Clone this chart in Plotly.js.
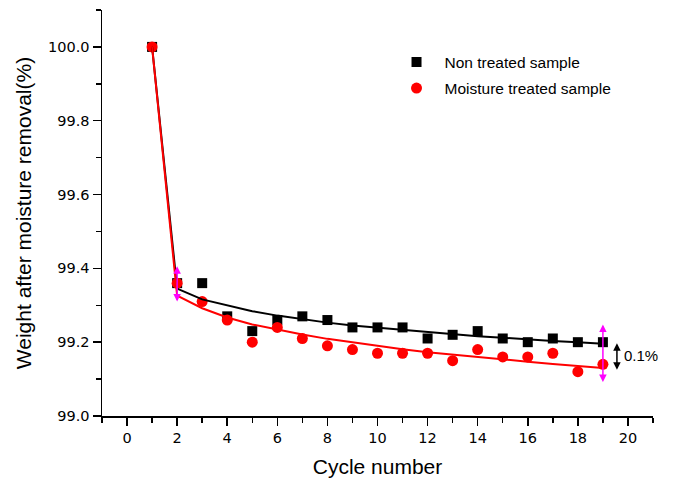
<!DOCTYPE html>
<html>
<head>
<meta charset="utf-8">
<script src="https://cdn.plot.ly/plotly-3.0.1.min.js"></script>
<style>
  html, body { margin: 0; padding: 0; background: #fff; }
  #chart { width: 674px; height: 483px; }
</style>
</head>
<body>
<div id="chart"></div>
<script>
// Cycle numbers
const cycles = [1, 2, 3, 4, 5, 6, 7, 8, 9, 10, 11, 12, 13, 14, 15, 16, 17, 18, 19];

// Measured weight after moisture removal (%)
const nonTreated = [100.00, 99.36, 99.36, 99.27, 99.23, 99.26, 99.27, 99.26, 99.24, 99.24,
                    99.24, 99.21, 99.22, 99.23, 99.21, 99.20, 99.21, 99.20, 99.20];
const moistureTreated = [100.00, 99.36, 99.31, 99.26, 99.20, 99.24, 99.21, 99.19, 99.18, 99.17,
                         99.17, 99.17, 99.15, 99.18, 99.16, 99.16, 99.17, 99.12, 99.14];

// Fitted decay curves for each sample
const nonTreatedFit = [100.000, 99.345, 99.316, 99.299, 99.284, 99.272, 99.262, 99.253, 99.245, 99.239,
                       99.232, 99.226, 99.221, 99.216, 99.212, 99.207, 99.203, 99.200, 99.196];
const moistureTreatedFit = [100.000, 99.326, 99.292, 99.267, 99.248, 99.234, 99.221, 99.209, 99.199, 99.190,
                            99.181, 99.173, 99.166, 99.159, 99.153, 99.147, 99.141, 99.135, 99.130];

// Tick positions and labels
const xTicks = [0, 2, 4, 6, 8, 10, 12, 14, 16, 18, 20];
const yTicks = [99.0, 99.2, 99.4, 99.6, 99.8, 100.0];
const yTickText = ['99.0', '99.2', '99.4', '99.6', '99.8', '100.0'];

// Spread markers: [x, yFrom, yTo]
const spreadStart = [2, 99.41, 99.31];
const spreadEnd = [19, 99.252, 99.092];
const gapArrow = [19.56, 99.201, 99.125];
const gapLabel = '0.1%';

const sans = 'Arial, "Liberation Sans", sans-serif';
const tickFont = { family: '"DejaVu Sans", sans-serif', size: 14.5, color: '#000' };

const traces = [
  {
    x: cycles, y: nonTreated, name: 'Non treated sample', legendgroup: 'a',
    type: 'scatter', mode: 'markers',
    marker: { symbol: 'square', size: 10, color: '#000' }
  },
  {
    x: cycles, y: moistureTreated, name: 'Moisture treated sample', legendgroup: 'b',
    type: 'scatter', mode: 'markers',
    marker: { symbol: 'circle', size: 11, color: '#ff0000' }
  },
  {
    x: cycles, y: nonTreatedFit, showlegend: false, hoverinfo: 'skip',
    type: 'scatter', mode: 'lines',
    line: { color: '#000', width: 2 }
  },
  {
    x: cycles, y: moistureTreatedFit, showlegend: false, hoverinfo: 'skip',
    type: 'scatter', mode: 'lines',
    line: { color: '#ff0000', width: 2 }
  }
];

function doubleArrow(spec, color) {
  return {
    x: spec[0], y: spec[2], ax: spec[0], ay: spec[1],
    xref: 'x', yref: 'y', axref: 'x', ayref: 'y',
    text: '', showarrow: true, arrowside: 'end+start',
    arrowhead: 2, arrowsize: 1, arrowwidth: 1.5, arrowcolor: color,
    standoff: 0, startstandoff: 0
  };
}

const layout = {
  width: 674, height: 483,
  margin: { l: 102, r: 21, t: 10, b: 67 },
  paper_bgcolor: '#fff', plot_bgcolor: '#fff',
  font: { family: sans, color: '#000' },
  showlegend: true,
  legend: {
    x: 0.52, y: 0.913, xanchor: 'left', yanchor: 'top',
    font: { family: sans, size: 15.5, color: '#000' },
    traceorder: 'grouped', tracegroupgap: 3,
    itemwidth: 46, bgcolor: 'rgba(0,0,0,0)', borderwidth: 0
  },
  xaxis: {
    range: [-1, 21], tickvals: xTicks, ticktext: xTicks.map(String),
    showgrid: false, zeroline: false,
    showline: true, linecolor: '#000', linewidth: 1.5, mirror: false,
    ticks: 'outside', ticklen: 8, tickwidth: 1.5, tickcolor: '#000',
    tickfont: tickFont,
    minor: { dtick: 1, tick0: 1, ticks: 'outside', ticklen: 5, tickwidth: 1.5, tickcolor: '#000', showgrid: false },
    title: { text: 'Cycle number', font: { family: sans, size: 21, color: '#000' }, standoff: 14 }
  },
  yaxis: {
    range: [99.0, 100.1], tickvals: yTicks, ticktext: yTickText,
    showgrid: false, zeroline: false,
    showline: true, linecolor: '#000', linewidth: 1.5, mirror: false,
    ticks: 'outside', ticklen: 8, tickwidth: 1.5, tickcolor: '#000',
    tickfont: tickFont,
    minor: { dtick: 0.1, tick0: 99.1, ticks: 'outside', ticklen: 5, tickwidth: 1.5, tickcolor: '#000', showgrid: false },
    title: { text: 'Weight after moisture removal(%)', font: { family: sans, size: 21, color: '#000' }, standoff: 10 }
  },
  annotations: [
    doubleArrow(spreadStart, '#ff00ff'),
    doubleArrow(spreadEnd, '#ff00ff'),
    doubleArrow(gapArrow, '#000'),
    {
      x: 19.78, y: (gapArrow[1] + gapArrow[2]) / 2, xref: 'x', yref: 'y',
      text: gapLabel, showarrow: false, xanchor: 'left', yanchor: 'middle',
      font: { family: sans, size: 15, color: '#000' }
    }
  ]
};

Plotly.newPlot('chart', traces, layout, { displayModeBar: false, staticPlot: true });
</script>
</body>
</html>
